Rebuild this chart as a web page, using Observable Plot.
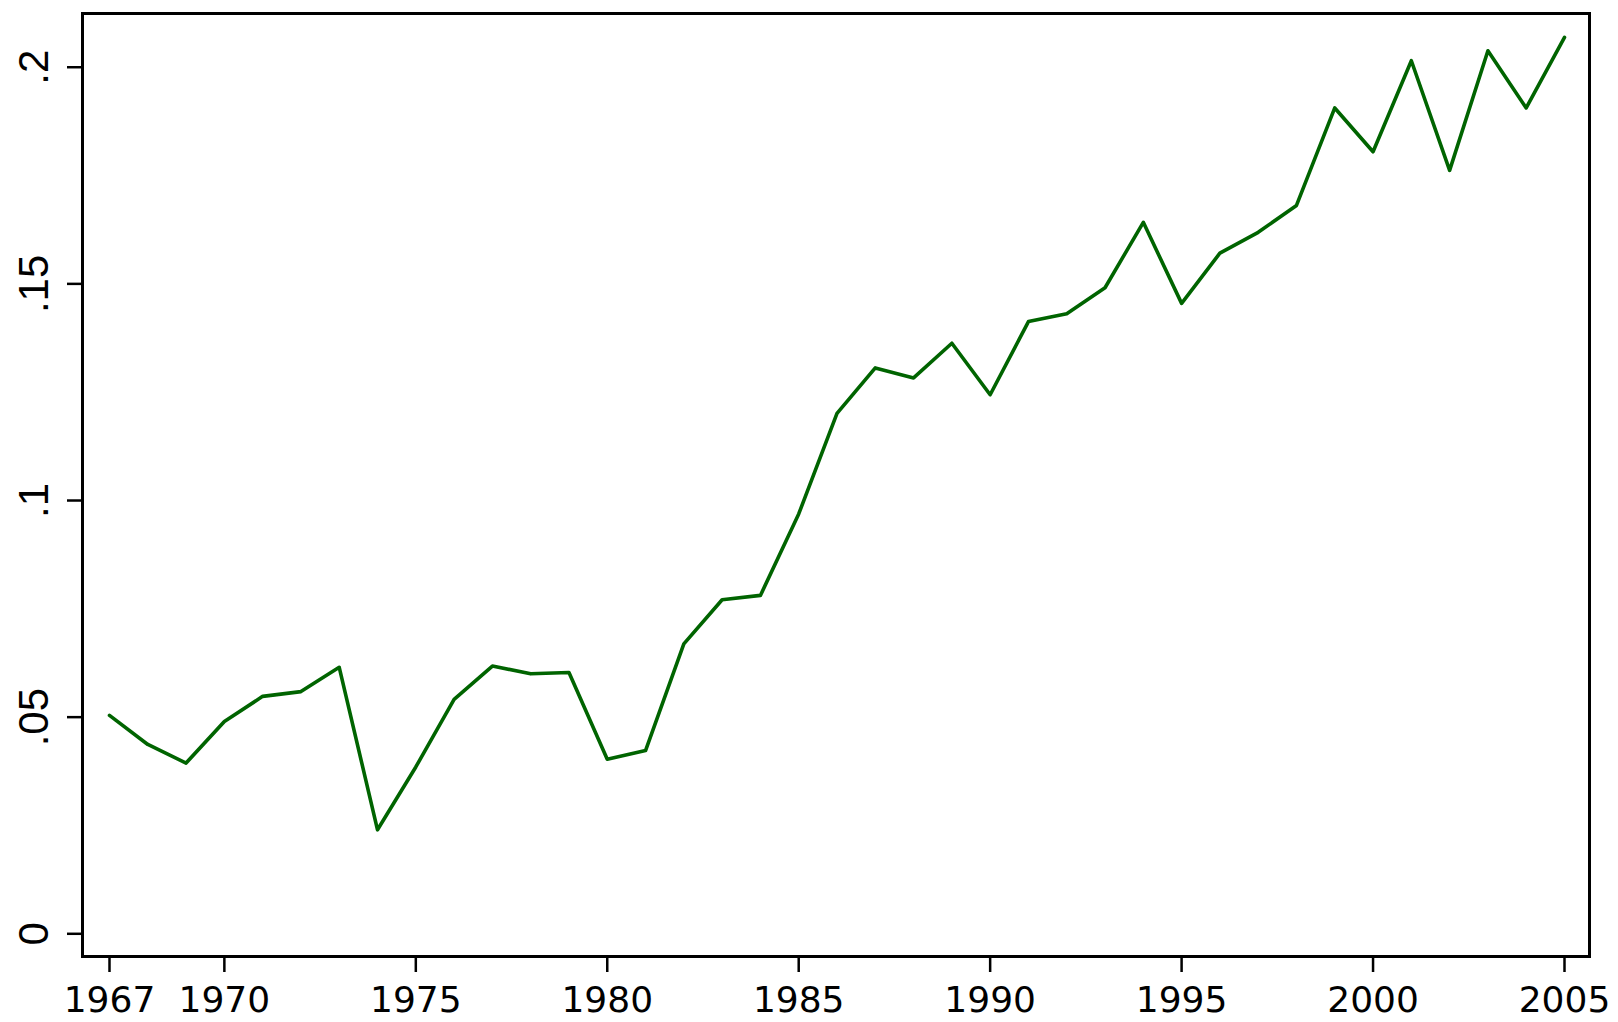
<!DOCTYPE html>
<html>
<head>
<meta charset="utf-8">
<script src="https://cdn.jsdelivr.net/npm/d3@7"></script>
<script src="https://cdn.jsdelivr.net/npm/@observablehq/plot@0.6"></script>
<style>
  body { margin: 0; background: #fff; }
</style>
</head>
<body>
<div id="chart"></div>
<script>
const years = [1967, 1968, 1969, 1970, 1971, 1972, 1973, 1974, 1975, 1976,
               1977, 1978, 1979, 1980, 1981, 1982, 1983, 1984, 1985, 1986,
               1987, 1988, 1989, 1990, 1991, 1992, 1993, 1994, 1995, 1996,
               1997, 1998, 1999, 2000, 2001, 2002, 2003, 2004, 2005];
const values = [0.0504, 0.0437, 0.0394, 0.0490, 0.0548, 0.0559, 0.0615, 0.0240, 0.0385, 0.0541,
                0.0618, 0.0600, 0.0603, 0.0403, 0.0423, 0.0669, 0.0771, 0.0781, 0.0969, 0.1201,
                0.1306, 0.1283, 0.1363, 0.1244, 0.1413, 0.1431, 0.1491, 0.1642, 0.1455, 0.1571,
                0.1619, 0.1681, 0.1906, 0.1805, 0.2015, 0.1762, 0.2038, 0.1906, 0.2069];
const xTicks = [1967, 1970, 1975, 1980, 1985, 1990, 1995, 2000, 2005];
const yTicks = [0, 0.05, 0.1, 0.15, 0.2];
const yTickLabels = ["0", ".05", ".1", ".15", ".2"];

const data = years.map((year, i) => ({year, value: values[i]}));

const chart = Plot.plot({
  width: 1618,
  height: 1022,
  marginLeft: 82,
  marginRight: 29,
  marginTop: 13,
  marginBottom: 66,
  x: {domain: [1966.295, 2005.653]},
  y: {domain: [-0.00524, 0.2124]},
  marks: [
    Plot.axisX(xTicks, {
      tickSize: 16, tickPadding: 14, strokeWidth: 2.5,
      tickFormat: d => String(d),
      fontSize: 36, fontFamily: "DejaVu Sans", label: null
    }),
    Plot.axisY(yTicks, {
      tickSize: 15, tickPadding: 20, tickRotate: -90, strokeWidth: 2.5,
      tickFormat: d => yTickLabels[yTicks.indexOf(d)],
      fontSize: 42, fontFamily: "'Liberation Sans Narrow', 'Liberation Sans', Arial, sans-serif", label: null
    }),
    Plot.line(data, {x: "year", y: "value", stroke: "#006400", strokeWidth: 3.6}),
    Plot.frame({stroke: "#000", strokeWidth: 3})
  ]
});

document.querySelector("#chart").append(chart);
</script>
</body>
</html>
